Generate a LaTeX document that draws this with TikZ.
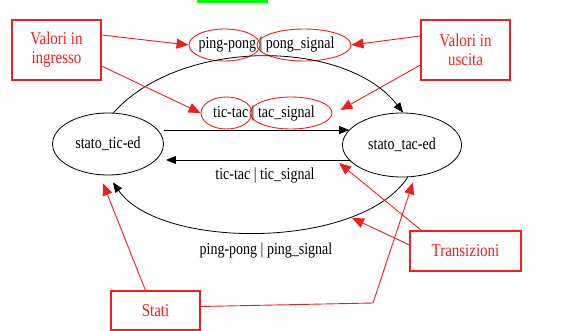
\documentclass[tikz,border=0pt]{standalone}
\usepackage{fontspec}
\usepackage{graphicx}
\setmainfont{Liberation Serif}
\usetikzlibrary{shapes.geometric,arrows.meta,calc}
\definecolor{myred}{RGB}{240,30,30}
\newcommand{\sy}[1]{\scalebox{1}[1.2]{#1}}
\begin{document}
\begin{tikzpicture}[x=1pt,y=-1pt,
  font=\fontsize{14}{17}\selectfont,
  state/.style={ellipse, draw, line width=0.8pt, inner sep=0pt},
  lab/.style={ellipse, draw=myred, line width=0.9pt, inner sep=0pt, minimum height=32pt},
  rbox/.style={draw=myred, line width=1.1pt, text=myred, align=center, inner sep=0pt, font=\fontsize{15}{19}\selectfont},
  arr/.style={-{Triangle[length=10pt,width=8pt]}, line width=0.8pt},
  rarr/.style={-{Triangle[length=12pt,width=10pt]}, line width=0.9pt, draw=myred}]
\useasboundingbox (0,0) rectangle (561,331);
\fill[green] (197,0) rectangle (268,3);
% states
\node[state, minimum width=111pt, minimum height=62pt] (tic) at (108,144) {\sy{stato\_tic-ed}};
\node[state, minimum width=119pt, minimum height=64pt] (tac) at (402,145) {\sy{stato\_tac-ed}};
% label ellipses
\node[lab, minimum width=71pt] (e1) at (224.5,45) {};
\node[lab, minimum width=94pt] (e2) at (304,45) {};
\node[lab, minimum width=51pt] (e3) at (226.5,113) {};
\node[lab, minimum width=82pt] (e4) at (291,113) {};
% labels
\node (l1) at (266.5,44) {\sy{ping-pong | pong\_signal}};
\node (l2) at (264,113) {\sy{tic-tac | tac\_signal}};
\node (l3) at (265,175) {\sy{tic-tac | tic\_signal}};
\node (l4) at (266,250) {\sy{ping-pong | ping\_signal}};
% red boxes
\node[rbox, minimum width=89pt, minimum height=60pt] (ing) at (56.5,50) {\sy{Valori in}\\\sy{ingresso}};
\node[rbox, minimum width=89pt, minimum height=60pt] (usc) at (465.5,50) {\sy{Valori in}\\\sy{uscita}};
\node[rbox, minimum width=111pt, minimum height=40pt] (tr) at (465.5,251) {\sy{Transizioni}};
\node[rbox, minimum width=89pt, minimum height=39pt] (st) at (155.5,310.5) {\sy{Stati}};
% transitions
\draw[arr] (tic.80) .. controls (180,38) and (345,38) .. (tac.88);
\draw[arr] (tac.280) .. controls (360,250) and (160,250) .. ($(tic.south)+(5,7)$);
\draw[arr] ($(tic.east)+(0,-14)$) -- ($(tac.west)+(7,-15)$);
\draw[arr] ($(tac.west)+(9,15)$) -- ($(tic.east)+(2,16)$);
% red pointers
\draw[rarr] ($(ing.east)+(0,-15)$) -- (e1.west);
\draw[rarr] ($(ing.east)+(0,16)$) -- (e3.west);
\draw[rarr] ($(usc.west)+(0,-14)$) -- (e2.east);
\draw[rarr] ($(usc.west)+(0,15)$) -- ($(e4.east)+(8,-3)$);
\draw[rarr] ($(st.north)+(-10,0)$) -- ($(tic.south)+(-5,8)$);
\coordinate (k) at (373,303);
\draw[rarr] ($(st.east)+(0,-4)$) -- (k) -- ($(tac.south)+(11,5)$);
\coordinate (tb) at (352,218);
\draw[rarr] ($(tr.west)+(0,-6)$) -- (tb);
\draw[rarr] ($(tr.north west)+(12,0)$) -- ($(tac.west)+(-3,18)$);
\end{tikzpicture}
\end{document}
